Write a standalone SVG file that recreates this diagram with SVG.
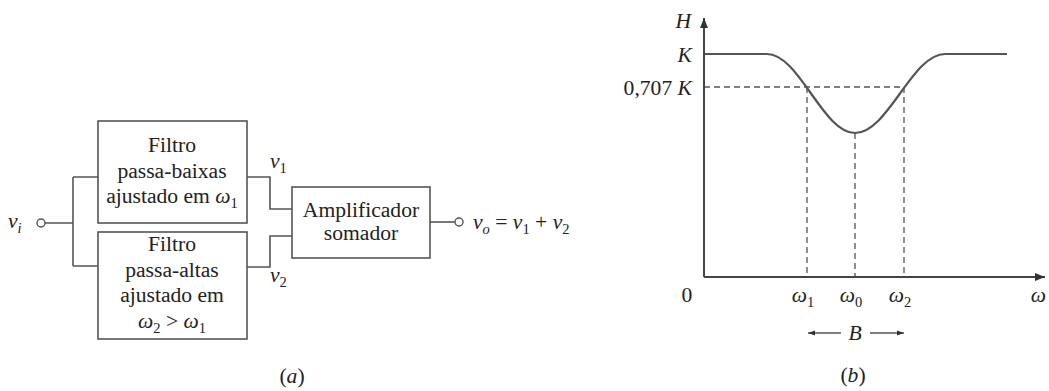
<svg xmlns="http://www.w3.org/2000/svg" width="1049" height="391" viewBox="0 0 1049 391">
<defs>
<style>
text{font-family:"Liberation Serif","Times New Roman",serif;font-size:21.6px;fill:#222}
.c{text-anchor:middle}
.e{text-anchor:end}
.i{font-style:italic}
.sub{font-size:14.5px;font-style:normal}
.subi{font-size:14.5px;font-style:italic}
.box{fill:#fff;stroke:#555;stroke-width:1.6}
.wire{fill:none;stroke:#555;stroke-width:1.6}
.term{fill:#fff;stroke:#555;stroke-width:1.4}
.axis{fill:none;stroke:#444;stroke-width:2}
.dash{fill:none;stroke:#555;stroke-width:1.3;stroke-dasharray:6 4}
.curve{fill:none;stroke:#555;stroke-width:2.2}
</style>
<marker id="ah" viewBox="0 0 10 10" refX="10" refY="5" markerWidth="10" markerHeight="10" markerUnits="userSpaceOnUse" orient="auto">
<path d="M0,1 L10,5 L0,9 Z" fill="#333"/>
</marker>
<marker id="ahs" viewBox="0 0 10 10" refX="10" refY="5" markerWidth="11" markerHeight="7" markerUnits="userSpaceOnUse" orient="auto">
<path d="M0,1.5 L10,5 L0,8.5 Z" fill="#333"/>
</marker>
</defs>

<g id="connectors">
<path class="wire" d="M45,223 H73 M73,177 V266 M73,177 H98 M73,266 H98"/>
<path class="wire" d="M247,177 H270 V209 H292"/>
<path class="wire" d="M247,267 H270 V236 H292"/>
<path class="wire" d="M430,222 H455"/>
</g>

<g id="input">
<circle class="term" cx="41" cy="223" r="4"/>
<text x="8" y="228" class="i">v<tspan class="subi" dy="5">i</tspan></text>
</g>

<g id="lowpass">
<rect class="box" x="98" y="121" width="149" height="102"/>
<text x="172" y="152" class="c">Filtro</text>
<text x="172" y="178" class="c">passa-baixas</text>
<text x="172" y="203" class="c">ajustado em <tspan class="i">ω</tspan><tspan class="sub" dy="5">1</tspan></text>
</g>

<g id="highpass">
<rect class="box" x="98" y="232" width="149" height="107"/>
<text x="172" y="251" class="c">Filtro</text>
<text x="172" y="277" class="c">passa-altas</text>
<text x="172" y="302" class="c">ajustado em</text>
<text x="172" y="328" class="c"><tspan class="i">ω</tspan><tspan class="sub" dy="5">2</tspan><tspan dy="-5"> &gt; </tspan><tspan class="i">ω</tspan><tspan class="sub" dy="5">1</tspan></text>
</g>

<g id="v1label"><text x="270" y="168" class="i">v<tspan class="sub" dy="5">1</tspan></text></g>
<g id="v2label"><text x="270" y="282" class="i">v<tspan class="sub" dy="5">2</tspan></text></g>

<g id="amplifier">
<rect class="box" x="292" y="187" width="138" height="71"/>
<text x="361" y="217" class="c">Amplificador</text>
<text x="361" y="240" class="c">somador</text>
</g>

<g id="output">
<circle class="term" cx="459" cy="222" r="4"/>
<text x="473" y="229"><tspan class="i">v</tspan><tspan class="subi" dy="5">o</tspan><tspan dy="-5"> = </tspan><tspan class="i">v</tspan><tspan class="sub" dy="5">1</tspan><tspan dy="-5"> + </tspan><tspan class="i">v</tspan><tspan class="sub" dy="5">2</tspan></text>
</g>

<text x="292" y="383" class="c">(<tspan class="i">a</tspan>)</text>

<!-- graph (b) -->
<path class="dash" d="M704,87 H904 M807,87 V277 M855,133 V277 M904,87 V277"/>
<path class="curve" d="M704,54 H767 C799,54 823,133 855,133 C888,133 912,54 945,54 H1007"/>
<path class="axis" d="M704,277 V18" marker-end="url(#ah)"/>
<path class="axis" d="M704,277 H1045" marker-end="url(#ah)"/>
<text x="691" y="28" class="e i">H</text>
<text x="692" y="62" class="e i">K</text>
<text x="692" y="95" class="e">0,707 <tspan class="i">K</tspan></text>
<text x="687" y="302" class="c">0</text>
<text x="803" y="302" class="c"><tspan class="i">ω</tspan><tspan class="sub" dy="5">1</tspan></text>
<text x="851" y="302" class="c"><tspan class="i">ω</tspan><tspan class="sub" dy="5">0</tspan></text>
<text x="900" y="302" class="c"><tspan class="i">ω</tspan><tspan class="sub" dy="5">2</tspan></text>
<text x="1046" y="302" class="e i">ω</text>
<path class="wire" d="M841,333 H808" marker-end="url(#ahs)"/>
<path class="wire" d="M870,333 H904" marker-end="url(#ahs)"/>
<text x="855" y="340" class="c i">B</text>
<text x="853" y="382" class="c">(<tspan class="i">b</tspan>)</text>
</svg>
